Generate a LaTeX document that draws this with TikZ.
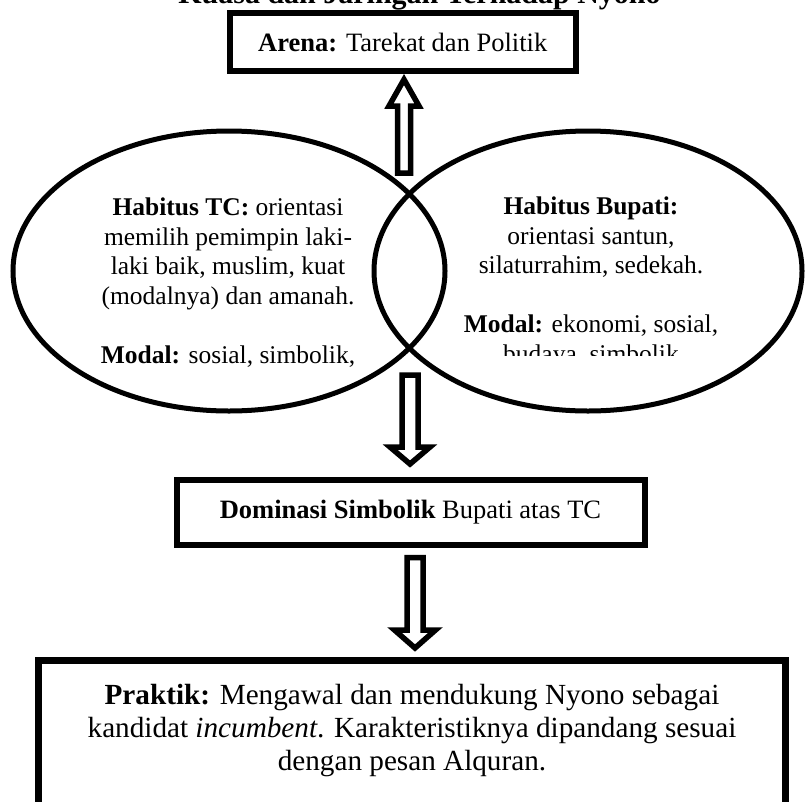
\documentclass[tikz,border=0pt]{standalone}
\usepackage{fontspec}
\setmainfont{Liberation Serif}
\usetikzlibrary{shapes.geometric}
\begin{document}
\begin{tikzpicture}[x=1pt,y=-1pt,
  boxstyle/.style={draw=black, line width=6pt, inner sep=0pt, fill=white},
  ellstyle/.style={ellipse, draw=black, line width=5pt, inner sep=0pt},
  blockarrow/.style={draw=black, line width=5.5pt, fill=white, line join=miter},
  elltext/.style={align=center, inner sep=0pt, anchor=north, font=\fontsize{25.5}{29.5}\selectfont},
  boxtext/.style={font=\fontsize{26.5}{30}\selectfont}
]
\clip (0,0) rectangle (805,801);
\fill[white] (0,0) rectangle (805,801);

% clipped title
\node[anchor=base, inner sep=0pt, font=\fontsize{30}{34}\selectfont\bfseries] (title) at (419.5,3) {Kuasa dan Jaringan Terhadap Nyono};

% Arena box
\node[boxstyle, boxtext, minimum width=345.5pt, minimum height=58pt] (arena) at (402.75,42) {\textbf{Arena:} Tarekat dan Politik};

% ellipses
\node[ellstyle, minimum width=432pt, minimum height=280pt] (ellL) at (229,271) {};
\node[ellstyle, minimum width=428pt, minimum height=280pt] (ellR) at (588,271) {};

% ellipse texts
\node[elltext] (habTC) at (228,198) {\textbf{Habitus TC:} orientasi\\ memilih pemimpin laki-\\ laki baik, muslim, kuat\\ (modalnya) dan amanah.\\[29.5pt] \textbf{Modal:} sosial, simbolik,};
\begin{scope}
\clip (430,180) rectangle (770,355);
\node[elltext] (habBup) at (591,197) {\textbf{Habitus Bupati:}\\ orientasi santun,\\ silaturrahim, sedekah.\\[29.5pt] \textbf{Modal:} ekonomi, sosial,\\ budaya, simbolik};
\end{scope}

% up arrow (ellipses -> arena)
\coordinate (uptip) at (404,79.5);
\draw[blockarrow] (397.5,173) -- (410.5,173) -- (410.5,106) -- (419,106) -- (uptip) -- (389,106) -- (397.5,106) -- cycle;

% down arrow 1 (ellipses -> dominasi)
\coordinate (d1tip) at (410,464);
\draw[blockarrow] (402,375) -- (418,375) -- (418,447) -- (430,447) -- (d1tip) -- (390,447) -- (402,447) -- cycle;

% Dominasi box
\node[boxstyle, boxtext, minimum width=468pt, minimum height=65pt] (dominasi) at (410.5,512) {\textbf{Dominasi Simbolik} Bupati atas TC};

% down arrow 2 (dominasi -> praktik)
\coordinate (d2tip) at (415,648);
\draw[blockarrow] (407,557.5) -- (423,557.5) -- (423,630) -- (435.5,630) -- (d2tip) -- (394.5,630) -- (407,630) -- cycle;

% Praktik box
\node[draw=black, line width=6.5pt, inner sep=0pt, fill=white, minimum width=747pt, minimum height=170pt] (praktikbox) at (412,745.5) {};
\node[align=center, inner sep=0pt, anchor=north, font=\fontsize{29.2}{33}\selectfont] (praktik) at (412,684) {\textbf{Praktik:} Mengawal dan mendukung Nyono sebagai\\ kandidat \textit{incumbent}. Karakteristiknya dipandang sesuai\\ dengan pesan Alquran.};
\end{tikzpicture}
\end{document}
